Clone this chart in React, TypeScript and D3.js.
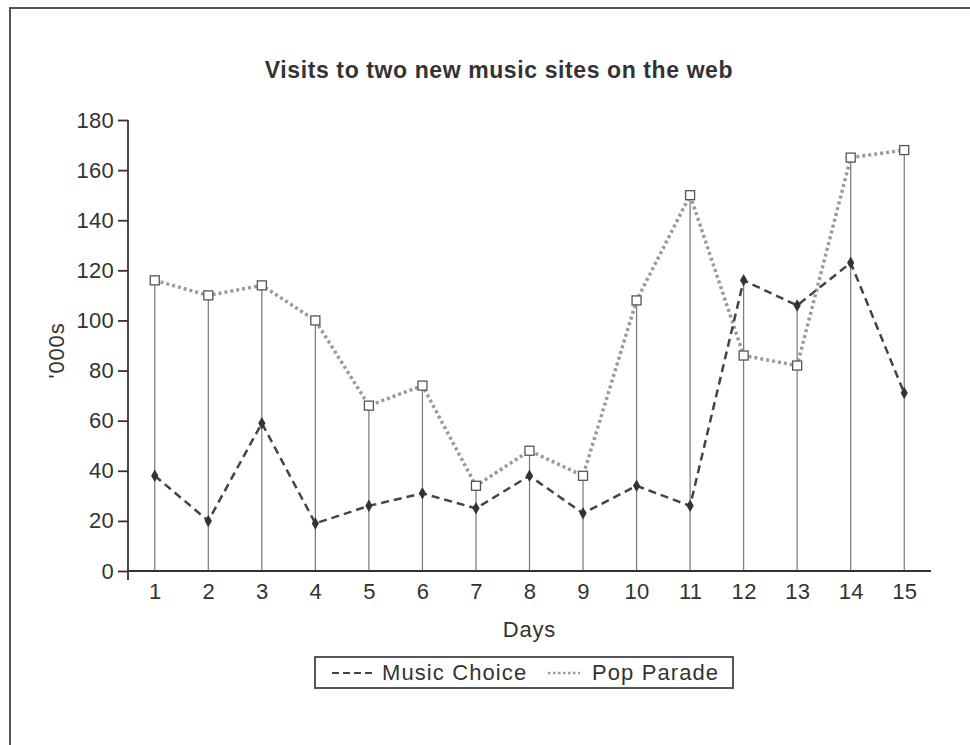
import { useEffect, useRef } from "react";
import * as d3 from "d3";

const days = [1, 2, 3, 4, 5, 6, 7, 8, 9, 10, 11, 12, 13, 14, 15];
const musicChoice = [38, 20, 59, 19, 26, 31, 25, 38, 23, 34, 26, 116, 106, 123, 71];
const popParade = [116, 110, 114, 100, 66, 74, 34, 48, 38, 108, 150, 86, 82, 165, 168];
const yTicks = [0, 20, 40, 60, 80, 100, 120, 140, 160, 180];

const W = 970;
const H = 745;
const FONT = "'Liberation Sans', Arial, sans-serif";
const FS = 22;

const App = () => {
  const ref = useRef<SVGSVGElement>(null);

  useEffect(() => {
    if (!ref.current) return;
    const svg = d3.select(ref.current);

    const x = d3.scaleLinear().domain([0.5, 15.5]).range([128, 931]);
    const y = d3.scaleLinear().domain([0, 180]).range([571, 120]);

    // frame (only left and top edges show in the scan)
    svg.append("path")
      .attr("d", `M10,${H} L10,8 L${W},8`)
      .attr("fill", "none")
      .attr("stroke", "#555")
      .attr("stroke-width", 2);

    svg.append("text")
      .attr("x", 499)
      .attr("y", 78)
      .attr("text-anchor", "middle")
      .attr("font-family", FONT)
      .attr("font-weight", "bold")
      .attr("font-size", 23)
      .attr("letter-spacing", 0.6)
      .attr("fill", "#333")
      .text("Visits to two new music sites on the web");

    // drop lines
    svg.append("g")
      .selectAll("line")
      .data(days)
      .join("line")
      .attr("x1", (d) => x(d))
      .attr("x2", (d) => x(d))
      .attr("y1", y(0))
      .attr("y2", (d, i) => y(Math.max(musicChoice[i], popParade[i])))
      .attr("stroke", "#777")
      .attr("stroke-width", 1.2);

    // y axis
    const yAxis = svg.append("g")
      .attr("transform", `translate(${x(0.5)},0)`)
      .call(d3.axisLeft(y).tickValues(yTicks).tickSize(10).tickSizeOuter(0));
    yAxis.select(".domain")
      .attr("d", `M0,${y(180)} L0,${y(0) + 9}`)
      .attr("stroke", "#333")
      .attr("stroke-width", 1.8);
    yAxis.selectAll(".tick line").attr("stroke", "#333").attr("stroke-width", 1.8);
    yAxis.selectAll(".tick text")
      .attr("font-family", FONT)
      .attr("font-size", FS)
      .attr("letter-spacing", 0.3)
      .attr("fill", "#333")
      .attr("x", -14);

    // x axis
    const xAxis = svg.append("g")
      .attr("transform", `translate(0,${y(0)})`)
      .call(d3.axisBottom(x).tickValues(days).tickSize(0).tickSizeOuter(0).tickFormat(d3.format("d")));
    xAxis.select(".domain")
      .attr("d", `M${x(0.5)},0 L${x(15.5)},0`)
      .attr("stroke", "#333")
      .attr("stroke-width", 1.8);
    xAxis.selectAll(".tick text")
      .attr("font-family", FONT)
      .attr("font-size", FS)
      .attr("letter-spacing", 0.3)
      .attr("fill", "#333")
      .attr("y", 12);

    svg.append("text")
      .attr("x", x(8))
      .attr("y", 637)
      .attr("text-anchor", "middle")
      .attr("font-family", FONT)
      .attr("font-size", FS)
      .attr("letter-spacing", 0.8)
      .attr("fill", "#333")
      .text("Days");

    svg.append("text")
      .attr("transform", `translate(64,${y(88)}) rotate(-90)`)
      .attr("text-anchor", "middle")
      .attr("font-family", FONT)
      .attr("font-size", FS)
      .attr("letter-spacing", 0.8)
      .attr("fill", "#333")
      .text("'000s");

    const line = d3.line<number>()
      .x((d, i) => x(days[i]))
      .y((d) => y(d));

    svg.append("path")
      .datum(popParade)
      .attr("d", line)
      .attr("fill", "none")
      .attr("stroke", "#9a9a9a")
      .attr("stroke-width", 3.5)
      .attr("stroke-dasharray", "3,3");

    svg.append("path")
      .datum(musicChoice)
      .attr("d", line)
      .attr("fill", "none")
      .attr("stroke", "#444")
      .attr("stroke-width", 2.5)
      .attr("stroke-dasharray", "8,5");

    // markers
    svg.append("g")
      .selectAll("rect")
      .data(popParade)
      .join("rect")
      .attr("x", (d, i) => x(days[i]) - 4.5)
      .attr("y", (d) => y(d) - 4.5)
      .attr("width", 9)
      .attr("height", 9)
      .attr("fill", "white")
      .attr("stroke", "#555")
      .attr("stroke-width", 1.3);

    const diamond = d3.symbol().type(d3.symbolDiamond).size(45);
    svg.append("g")
      .selectAll("path")
      .data(musicChoice)
      .join("path")
      .attr("transform", (d, i) => `translate(${x(days[i])},${y(d)})`)
      .attr("d", diamond)
      .attr("fill", "#333");

    // legend
    const lg = svg.append("g");
    lg.append("rect")
      .attr("x", 315)
      .attr("y", 657)
      .attr("width", 418)
      .attr("height", 31)
      .attr("fill", "white")
      .attr("stroke", "#444")
      .attr("stroke-width", 1.8);
    lg.append("line")
      .attr("x1", 332).attr("x2", 372)
      .attr("y1", 673).attr("y2", 673)
      .attr("stroke", "#444")
      .attr("stroke-width", 2)
      .attr("stroke-dasharray", "7,4");
    lg.append("text")
      .attr("x", 382).attr("y", 680)
      .attr("font-family", FONT)
      .attr("font-size", FS)
      .attr("letter-spacing", 1.1)
      .attr("fill", "#333")
      .text("Music Choice");
    lg.append("line")
      .attr("x1", 548).attr("x2", 580)
      .attr("y1", 673).attr("y2", 673)
      .attr("stroke", "#9a9a9a")
      .attr("stroke-width", 2.5)
      .attr("stroke-dasharray", "2.5,2.5");
    lg.append("text")
      .attr("x", 592).attr("y", 680)
      .attr("font-family", FONT)
      .attr("font-size", FS)
      .attr("letter-spacing", 1.1)
      .attr("fill", "#333")
      .text("Pop Parade");

    return () => {
      svg.selectAll("*").remove();
    };
  }, []);

  return (
    <svg
      ref={ref}
      width={W}
      height={H}
      style={{ position: "absolute", left: 0, top: 0, background: "white" }}
    />
  );
};

export default App;
